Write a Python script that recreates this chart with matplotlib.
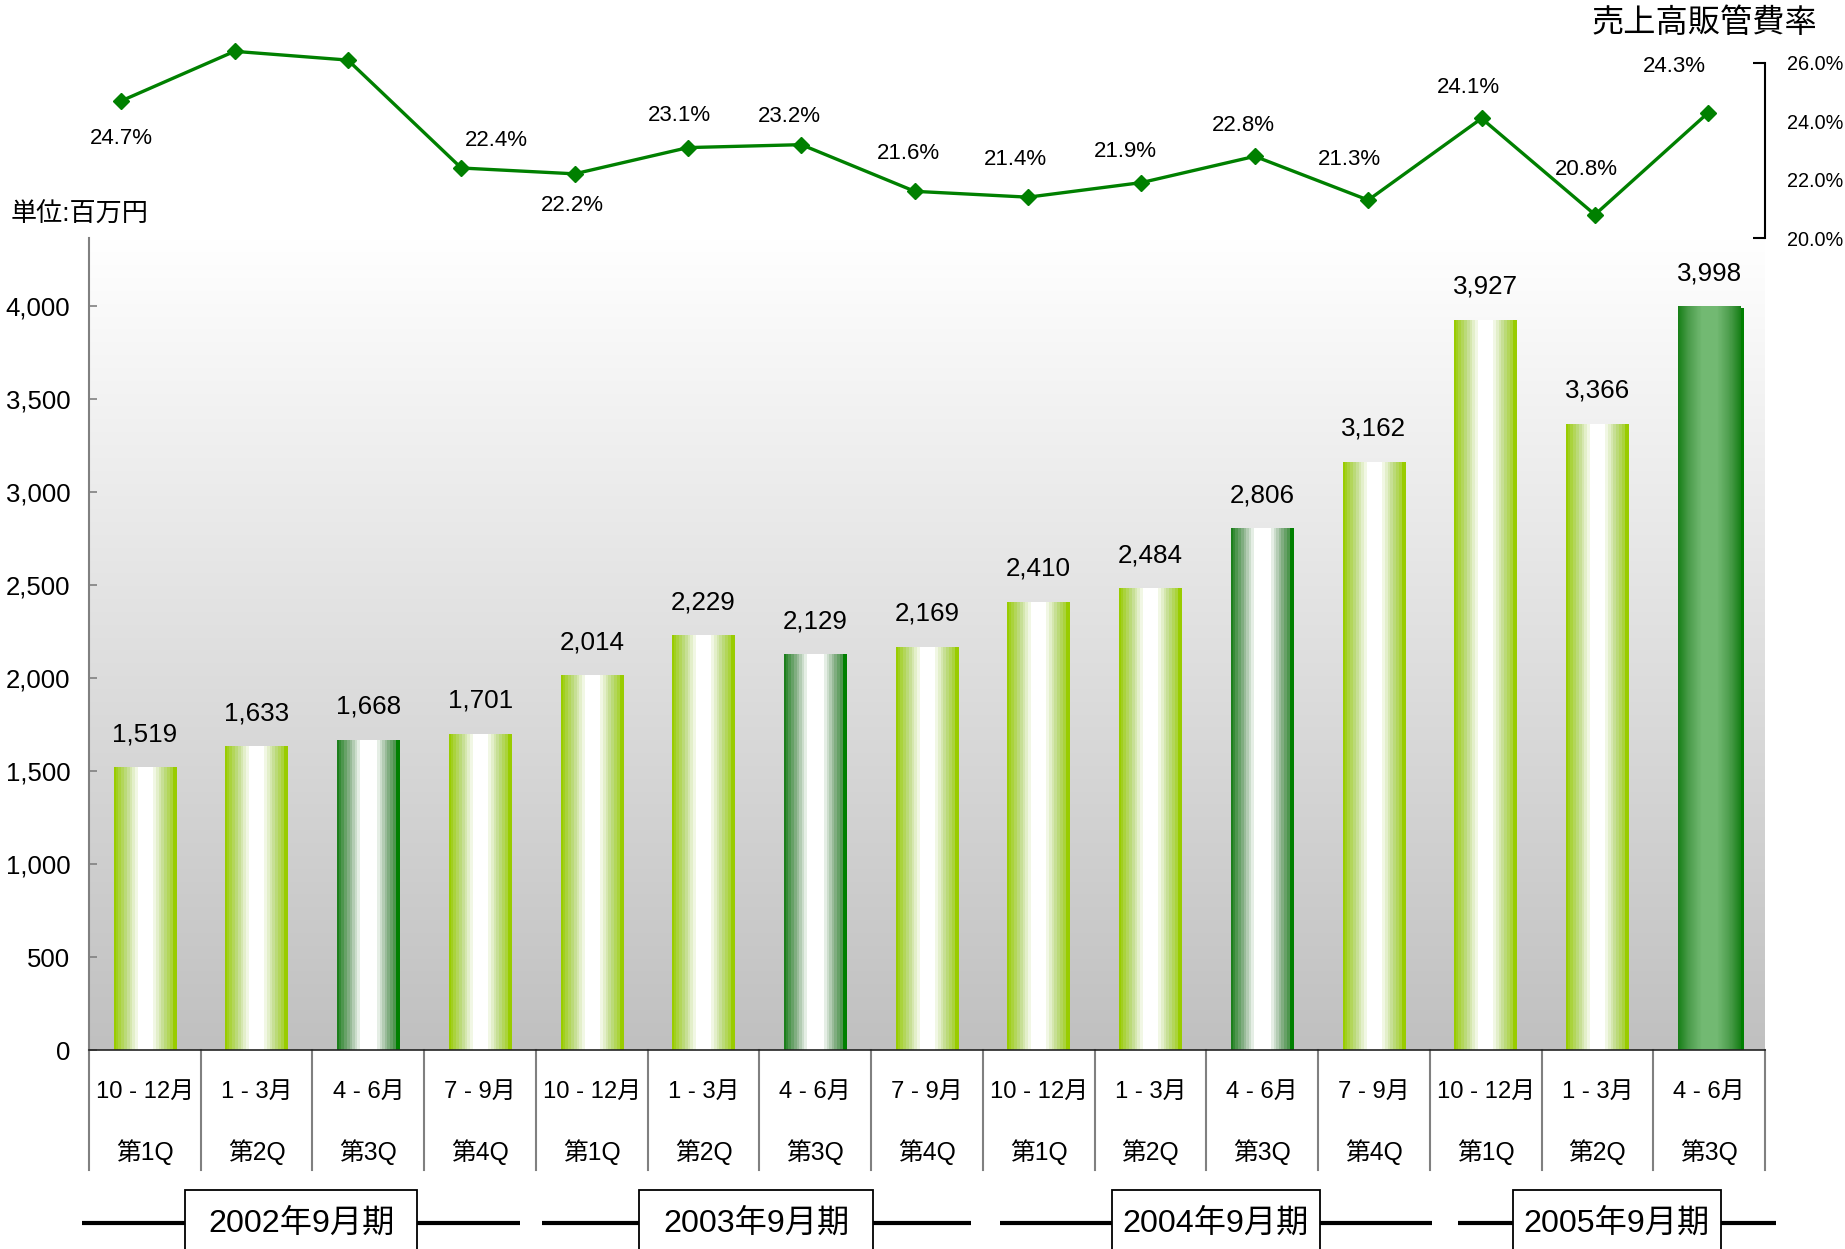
import numpy as np
import matplotlib
matplotlib.use("Agg")
import matplotlib.pyplot as plt
from matplotlib.patches import Rectangle
from matplotlib.colors import to_rgb
import matplotlib.transforms as mtransforms

plt.rcParams['font.family'] = ['Liberation Sans', 'Noto Sans CJK JP', 'DejaVu Sans']

# ---------------- data ----------------
months = ["10 - 12月", "1 - 3月", "4 - 6月", "7 - 9月",
          "10 - 12月", "1 - 3月", "4 - 6月", "7 - 9月",
          "10 - 12月", "1 - 3月", "4 - 6月", "7 - 9月",
          "10 - 12月", "1 - 3月", "4 - 6月"]
quarters = ["第1Q", "第2Q", "第3Q", "第4Q",
            "第1Q", "第2Q", "第3Q", "第4Q",
            "第1Q", "第2Q", "第3Q", "第4Q",
            "第1Q", "第2Q", "第3Q"]
sga_amount = [1519, 1633, 1668, 1701, 2014, 2229, 2129, 2169,
              2410, 2484, 2806, 3162, 3927, 3366, 3998]
sga_ratio = [24.7, 26.4, 26.1, 22.4, 22.2, 23.1, 23.2, 21.6,
             21.4, 21.9, 22.8, 21.3, 24.1, 20.8, 24.3]
fiscal_years = ["2002年9月期", "2003年9月期", "2004年9月期", "2005年9月期"]
y_ticks = [0, 500, 1000, 1500, 2000, 2500, 3000, 3500, 4000]
ratio_ticks = [20.0, 22.0, 24.0, 26.0]

# ---------------- styles / layout ----------------
bar_style = ["light", "light", "dark", "light", "light", "light", "dark", "light",
             "light", "light", "dark", "light", "light", "light", "hi"]
# label offsets (pixels, dx right, dy down) for ratio labels
lab_dx = [0, 0, -13, 35, -2, -9, -12, -6, -13, -16, -11, -19, -13, -9, -34]
lab_dy = [38, 48, 62, -27, 32, -32, -28, -38, -38, -31, -31, -41, -31, -45, -46]
# fiscal-year bracket spans (in category units) and box half widths
year_spans = [(-0.56, 3.36), (3.55, 7.39), (7.65, 11.52), (11.75, 14.6)]
box_half = [1.04, 1.05, 0.93, 0.93]

W, H = 1845, 1249
fig = plt.figure(figsize=(W / 100, H / 100), dpi=100)


def fx(px):
    return px / W


def fy(py):
    return 1 - py / H


# ---------------- bar axes ----------------
ax = fig.add_axes([fx(89), fy(1050), (1765 - 89) / W, (1050 - 238) / H])
x = np.arange(len(sga_amount))

# background vertical gradient
g = np.linspace(255, 192, 256) / 255.0
bg = np.stack([g, g, g], axis=1).reshape(256, 1, 3)
ax.imshow(bg, extent=[0, 1, 0, 1], transform=ax.transAxes, aspect='auto',
          zorder=0, interpolation='bilinear')


def grad_row(edge, mid, center, flat, n=120, steps=None, rim=None):
    e, m, c = np.array(to_rgb(edge)), np.array(to_rgb(mid)), np.array(to_rgb(center))
    u = np.linspace(-1, 1, n)
    t = np.clip((np.abs(u) - flat) / (1 - flat), 0, 1)
    if steps:
        t = np.round(t * steps) / steps
    cols = np.where(t[:, None] < 0.5,
                    c + (m - c) * (t[:, None] / 0.5),
                    m + (e - m) * ((t[:, None] - 0.5) / 0.5))
    if rim is not None:
        k = max(1, n // 16)
        cols[-k:] = np.array(to_rgb(rim))
    return cols[None, :, :]


styles = {
    "light": grad_row("#99cc00", "#c0dc88", "#ffffff", 0.2, steps=9, rim="#99cc00"),
    "dark": grad_row("#1c7f1c", "#8db38d", "#ffffff", 0.22, steps=9, rim="#008000"),
    "hi": grad_row("#178017", "#4f9f4f", "#72b972", 0.25),
}

width = 0.56
bars = ax.bar(x, sga_amount, width=width, color='none', edgecolor='none', zorder=2)

# shadow for highlighted bar
shadow_tr = ax.transData + mtransforms.ScaledTranslation(4 / 100, -2 / 100, fig.dpi_scale_trans)
for i, st in enumerate(bar_style):
    if st == "hi":
        ax.bar(x[i], sga_amount[i], width=width, color='#008000', zorder=1.5,
               transform=shadow_tr)

for i, (p, st) in enumerate(zip(bars, bar_style)):
    x0 = p.get_x()
    im = ax.imshow(styles[st], extent=[x0, x0 + p.get_width(), 0, p.get_height()],
                   aspect='auto', zorder=2, interpolation='nearest')
    im.set_clip_path(p)
    ax.annotate(f"{sga_amount[i]:,}", (x[i], sga_amount[i]), xytext=(0, 26),
                textcoords='offset pixels', ha='center', va='baseline', fontsize=18.7)

ax.set_xlim(-0.5, 14.5)
ax.set_ylim(0, 4366)
ax.set_yticks(y_ticks)
ax.set_yticklabels([f"{v:,}" for v in y_ticks])
ax.set_xticks([])
ax.tick_params(axis='y', direction='in', length=6, width=1.2, color='#808080',
               labelsize=18.5, pad=13.5)
for s in ['top', 'right']:
    ax.spines[s].set_visible(False)
ax.spines['left'].set_color('#808080')
ax.spines['left'].set_linewidth(1.5)
ax.spines['bottom'].set_color('#222222')
ax.spines['bottom'].set_linewidth(1.2)
ax.spines['left'].set_zorder(3)
ax.spines['bottom'].set_zorder(3)

bl = mtransforms.blended_transform_factory(ax.transData, ax.transAxes)
for b in np.arange(-0.5, len(x)):
    ax.plot([b, b], [0, -0.148], transform=bl, color='#808080', lw=1.5, clip_on=False)
for i in x:
    ax.text(i, -0.0517, months[i], transform=bl, ha='center', va='center', fontsize=17.2)
    ax.text(i, -0.1256, quarters[i], transform=bl, ha='center', va='center', fontsize=17.8)

y_line = -0.2135
for lbl, (s0, s1), hw in zip(fiscal_years, year_spans, box_half):
    cx = (s0 + s1) / 2
    ax.plot([s0, cx - hw], [y_line, y_line], transform=bl, color='black', lw=3,
            clip_on=False, solid_capstyle='butt')
    ax.plot([cx + hw, s1], [y_line, y_line], transform=bl, color='black', lw=3,
            clip_on=False, solid_capstyle='butt')
    ax.add_patch(Rectangle((cx - hw, -0.5), 2 * hw, 0.5 - 0.1724, transform=bl,
                           facecolor='white', edgecolor='black', lw=1.3, clip_on=False))
    ax.text(cx, y_line, lbl, transform=bl, ha='center', va='center', fontsize=23.2)

# ---------------- ratio line axes ----------------
lax = fig.add_axes([fx(64.5), fy(238), (1765 - 64.5) / W, 175 / H])
lax.patch.set_visible(False)
lax.set_xlim(-0.5, 14.5)
lax.set_ylim(20, 26)
lax.plot(x, sga_ratio, color='#008000', lw=2.4, marker='D', markersize=8, zorder=3,
         clip_on=False)
for i, v in enumerate(sga_ratio):
    lax.annotate(f"{v:.1f}%", (x[i], v), xytext=(lab_dx[i], -lab_dy[i]),
                 textcoords='offset pixels', ha='center', va='center', fontsize=16)
for s in ['left', 'top', 'bottom']:
    lax.spines[s].set_visible(False)
lax.spines['right'].set_linewidth(1.5)
lax.set_xticks([])
lax.yaxis.tick_right()
lax.yaxis.remove_overlapping_locs = False
lax.set_yticks(ratio_ticks)
lax.set_yticklabels([f"{v:.1f}%" for v in ratio_ticks])
lax.set_yticks([ratio_ticks[0], ratio_ticks[-1]], minor=True)
lax.tick_params(axis='y', which='major', length=0, pad=16, labelsize=14.3)
lax.tick_params(axis='y', which='minor', direction='in', length=9, width=1.5, color='black')

fig.text(fx(1817), fy(24), "売上高販管費率", ha='right', va='center', fontsize=23.2)
fig.text(fx(11), fy(215), "単位:百万円", ha='left', va='center', fontsize=18.8)

fig.savefig("out.png", dpi=100)
